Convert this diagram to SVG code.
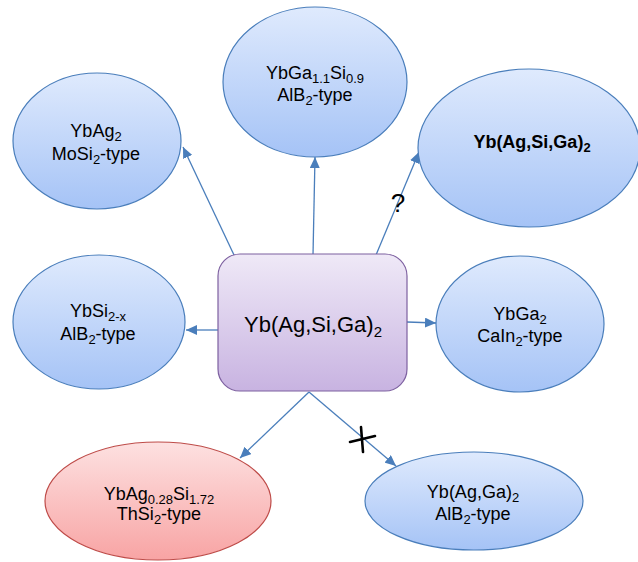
<svg xmlns="http://www.w3.org/2000/svg" width="638" height="562" viewBox="0 0 638 562">
  <style>
    .lbl { font-family: "Liberation Sans", Arial, sans-serif; font-size: 18px; fill: #000; text-anchor: middle; }
    .sub { font-size: 13px; }
    .blue { fill: url(#gBlue); stroke: #4a7ebb; stroke-width: 1.2; }
    .red { fill: url(#gRed); stroke: #be4b48; stroke-width: 1.2; }
    .conn { stroke: #4a7ebb; stroke-width: 1.3; fill: none; marker-end: url(#arrow); }
  </style>
  <defs>
    <linearGradient id="gBlue" x1="0" y1="0" x2="0" y2="1">
      <stop offset="0" stop-color="#dfeafd"/>
      <stop offset="1" stop-color="#a5c3f6"/>
    </linearGradient>
    <linearGradient id="gRed" x1="0" y1="0" x2="0" y2="1">
      <stop offset="0" stop-color="#fde1e1"/>
      <stop offset="1" stop-color="#f8a4a4"/>
    </linearGradient>
    <linearGradient id="gPurple" x1="0" y1="0" x2="0" y2="1">
      <stop offset="0" stop-color="#efe9f7"/>
      <stop offset="1" stop-color="#c8b3e1"/>
    </linearGradient>
    <marker id="arrow" markerUnits="userSpaceOnUse" markerWidth="12" markerHeight="10" refX="11" refY="5" orient="auto">
      <path d="M0,0 L11,5 L0,10 Z" fill="#4a7ebb"/>
    </marker>
  </defs>

  <!-- connectors -->
  <g id="connectors">
    <line class="conn" x1="234" y1="255" x2="183" y2="147"/>
    <line class="conn" x1="313" y1="255" x2="315" y2="157"/>
    <line class="conn" x1="376" y1="255" x2="419" y2="152"/>
    <line class="conn" x1="218" y1="330" x2="186" y2="330"/>
    <line class="conn" x1="407" y1="322" x2="436" y2="323"/>
    <line class="conn" x1="309" y1="392" x2="240" y2="458"/>
    <line class="conn" x1="309" y1="392" x2="396" y2="466"/>
    <text class="lbl" x="398" y="212" style="font-size:26px">?</text>
    <g id="cross" stroke="#000" stroke-width="2.6" stroke-linecap="round" fill="none">
      <path d="M350,442 L375,436"/>
      <path d="M361,427 Q362,440 363,452"/>
    </g>
  </g>

  <g id="n-ybag2">
    <ellipse class="blue" cx="97" cy="141" rx="84" ry="68"/>
    <text class="lbl" x="96" y="137">YbAg<tspan class="sub" dy="4">2</tspan></text>
    <text class="lbl" x="96" y="160">MoSi<tspan class="sub" dy="4">2</tspan><tspan dy="-4">-type</tspan></text>
  </g>

  <g id="n-ybgasi">
    <ellipse class="blue" cx="315" cy="82" rx="92" ry="75"/>
    <text class="lbl" x="315" y="79">YbGa<tspan class="sub" dy="4">1.1</tspan><tspan dy="-4">Si</tspan><tspan class="sub" dy="4">0.9</tspan></text>
    <text class="lbl" x="315" y="101">AlB<tspan class="sub" dy="4">2</tspan><tspan dy="-4">-type</tspan></text>
  </g>

  <g id="n-unknown">
    <ellipse class="blue" cx="529" cy="148" rx="111" ry="79"/>
    <text class="lbl" x="532" y="148" style="font-weight:bold">Yb(Ag,Si,Ga)<tspan class="sub" dy="4">2</tspan></text>
  </g>

  <g id="n-ybsi">
    <ellipse class="blue" cx="99" cy="322" rx="86" ry="67"/>
    <text class="lbl" x="98" y="317">YbSi<tspan class="sub" dy="4">2-x</tspan></text>
    <text class="lbl" x="98" y="340">AlB<tspan class="sub" dy="4">2</tspan><tspan dy="-4">-type</tspan></text>
  </g>

  <g id="n-center">
    <rect x="218" y="254" width="189" height="137" rx="22" fill="url(#gPurple)" stroke="#7d60a0" stroke-width="1.2"/>
    <text class="lbl" x="313" y="332" style="font-size:22px">Yb(Ag,Si,Ga)<tspan class="sub" dy="5" style="font-size:15px">2</tspan></text>
  </g>

  <g id="n-ybga2">
    <ellipse class="blue" cx="520" cy="324" rx="84" ry="68"/>
    <text class="lbl" x="520" y="320">YbGa<tspan class="sub" dy="4">2</tspan></text>
    <text class="lbl" x="520" y="342">CaIn<tspan class="sub" dy="4">2</tspan><tspan dy="-4">-type</tspan></text>
  </g>

  <g id="n-thsi2">
    <ellipse class="red" cx="158" cy="501" rx="113" ry="59"/>
    <text class="lbl" x="159" y="500">YbAg<tspan class="sub" dy="4">0.28</tspan><tspan dy="-4">Si</tspan><tspan class="sub" dy="4">1.72</tspan></text>
    <text class="lbl" x="159" y="520">ThSi<tspan class="sub" dy="4">2</tspan><tspan dy="-4">-type</tspan></text>
  </g>

  <g id="n-ybagga">
    <ellipse class="blue" cx="474" cy="501" rx="109" ry="49"/>
    <text class="lbl" x="473" y="498">Yb(Ag,Ga)<tspan class="sub" dy="4">2</tspan></text>
    <text class="lbl" x="473" y="520">AlB<tspan class="sub" dy="4">2</tspan><tspan dy="-4">-type</tspan></text>
  </g>
</svg>
